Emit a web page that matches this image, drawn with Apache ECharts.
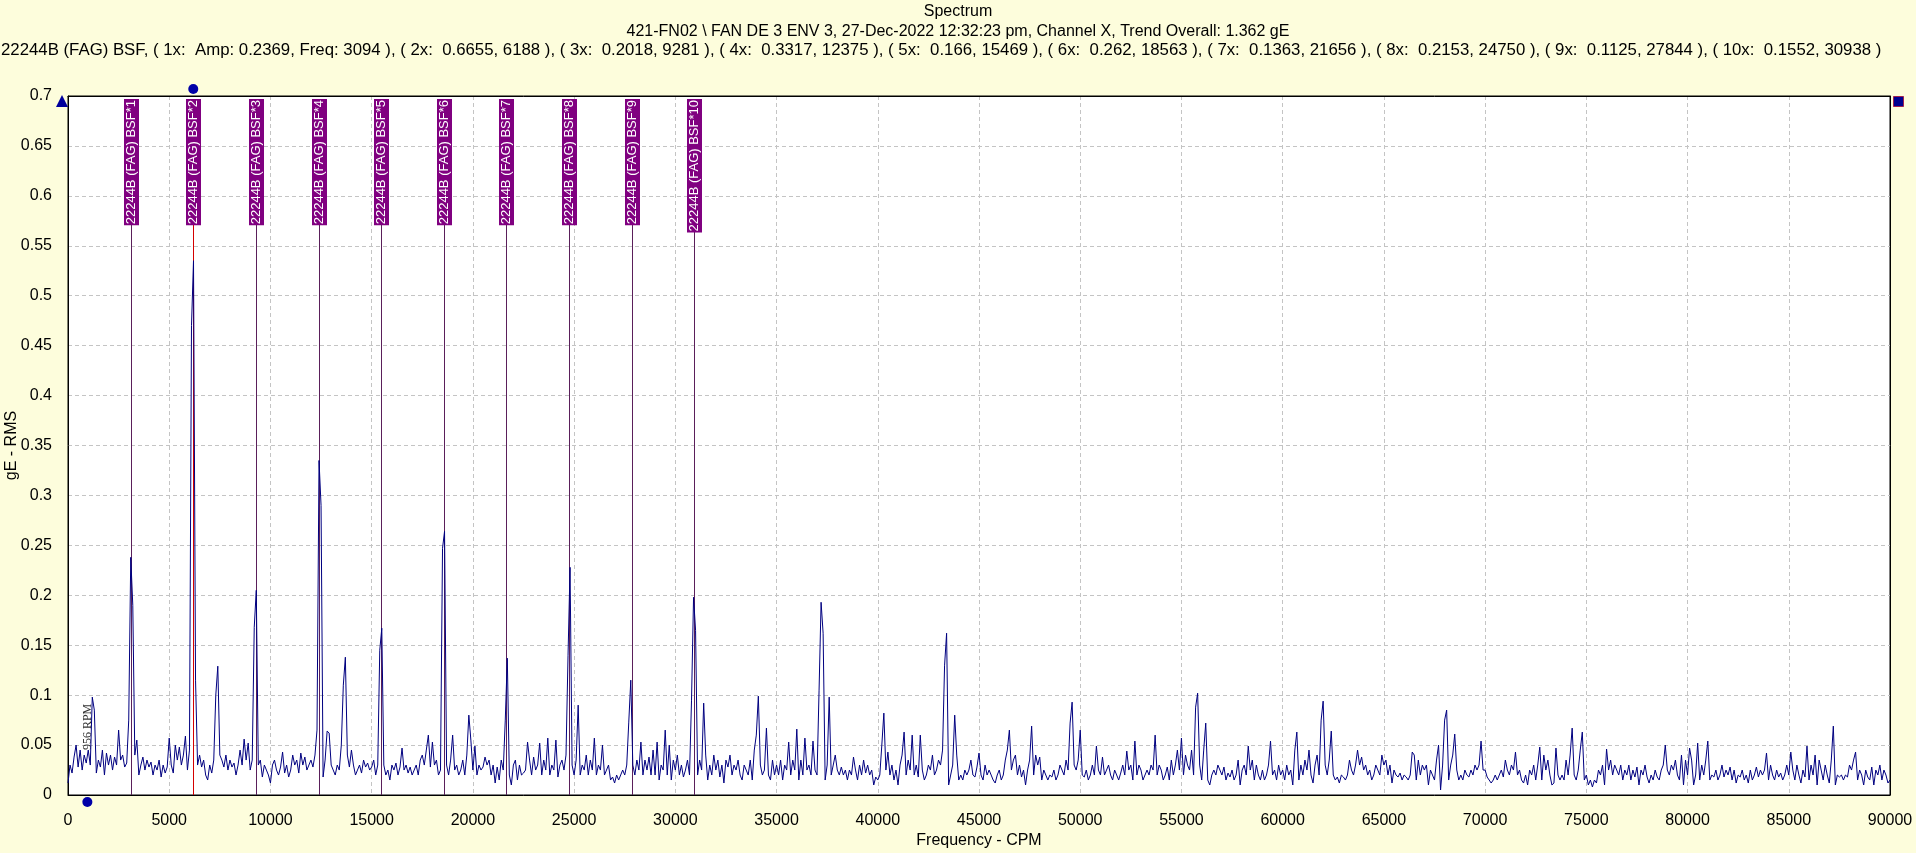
<!DOCTYPE html>
<html><head><meta charset="utf-8">
<script src="https://cdn.jsdelivr.net/npm/echarts@6/dist/echarts.min.js"></script>
<style>html,body{margin:0;padding:0;background:#fdfddc;}#c{width:1916px;height:853px;}</style>
</head><body><div id="c"></div>
<script>
// ---- data ----
const FREQ_STEP = 100; // CPM between spectrum lines
const ampRow0 = [0.012,0.03,0.022,0.038,0.05,0.028,0.045,0.025,0.04,0.032, 0.045,0.03,0.098,0.085,0.022,0.035,0.028,0.045,0.02,0.042, 0.03,0.04,0.025,0.038,0.03,0.065,0.035,0.04,0.028,0.032, 0.075,0.238,0.19,0.04,0.055,0.02,0.03,0.038,0.025,0.035, 0.028,0.033,0.02,0.03,0.025,0.035,0.018,0.03,0.022,0.028];
const ampRow1 = [0.057,0.03,0.022,0.05,0.035,0.048,0.03,0.04,0.059,0.025, 0.045,0.47,0.535,0.115,0.03,0.04,0.028,0.035,0.02,0.015, 0.03,0.022,0.035,0.1,0.129,0.04,0.035,0.028,0.04,0.025, 0.035,0.028,0.032,0.02,0.03,0.045,0.03,0.056,0.035,0.052, 0.025,0.035,0.168,0.205,0.03,0.035,0.018,0.03,0.025,0.02];
const ampRow2 = [0.012,0.03,0.035,0.025,0.02,0.028,0.043,0.022,0.03,0.018, 0.025,0.04,0.03,0.035,0.022,0.042,0.03,0.038,0.025,0.03, 0.035,0.028,0.04,0.065,0.335,0.29,0.018,0.035,0.064,0.062, 0.03,0.025,0.02,0.03,0.025,0.05,0.11,0.138,0.04,0.028, 0.045,0.03,0.02,0.025,0.03,0.022,0.035,0.028,0.032,0.025];
const ampRow3 = [0.028,0.035,0.02,0.03,0.145,0.167,0.03,0.02,0.025,0.015, 0.03,0.025,0.032,0.02,0.028,0.047,0.025,0.03,0.022,0.028, 0.02,0.025,0.03,0.02,0.035,0.04,0.03,0.045,0.06,0.028, 0.053,0.03,0.035,0.02,0.025,0.247,0.264,0.03,0.02,0.035, 0.06,0.025,0.03,0.02,0.025,0.035,0.02,0.04,0.08,0.055];
const ampRow4 = [0.025,0.049,0.02,0.03,0.025,0.028,0.038,0.03,0.035,0.02, 0.03,0.012,0.028,0.015,0.035,0.025,0.075,0.137,0.02,0.01, 0.03,0.035,0.015,0.03,0.02,0.022,0.025,0.053,0.035,0.02, 0.038,0.025,0.03,0.052,0.02,0.035,0.025,0.057,0.02,0.03, 0.025,0.055,0.018,0.03,0.035,0.025,0.04,0.14,0.228,0.03];
const ampRow5 = [0.02,0.035,0.09,0.02,0.03,0.025,0.04,0.02,0.035,0.025, 0.057,0.02,0.03,0.025,0.05,0.02,0.025,0.03,0.015,0.018, 0.012,0.02,0.015,0.02,0.025,0.02,0.03,0.073,0.115,0.03, 0.02,0.035,0.025,0.053,0.02,0.035,0.025,0.038,0.02,0.045, 0.02,0.053,0.015,0.03,0.025,0.065,0.02,0.05,0.015,0.035];
const ampRow6 = [0.025,0.04,0.02,0.03,0.018,0.025,0.035,0.02,0.095,0.198, 0.165,0.02,0.035,0.025,0.092,0.04,0.015,0.03,0.02,0.04, 0.025,0.035,0.018,0.03,0.012,0.035,0.028,0.04,0.02,0.03, 0.025,0.035,0.02,0.015,0.03,0.025,0.02,0.035,0.015,0.045, 0.06,0.099,0.03,0.02,0.025,0.067,0.02,0.015,0.035,0.02];
const ampRow7 = [0.03,0.02,0.035,0.015,0.03,0.025,0.053,0.02,0.035,0.025, 0.066,0.015,0.035,0.02,0.057,0.025,0.03,0.02,0.054,0.025, 0.02,0.105,0.193,0.162,0.015,0.03,0.098,0.02,0.03,0.04, 0.025,0.02,0.028,0.02,0.025,0.015,0.025,0.02,0.038,0.025, 0.015,0.03,0.02,0.035,0.022,0.03,0.02,0.025,0.01,0.018];
const ampRow8 = [0.015,0.02,0.05,0.082,0.025,0.043,0.02,0.03,0.015,0.025, 0.01,0.03,0.04,0.063,0.02,0.035,0.025,0.06,0.02,0.03, 0.018,0.06,0.025,0.015,0.02,0.03,0.025,0.04,0.02,0.025, 0.035,0.03,0.045,0.13,0.162,0.01,0.02,0.03,0.08,0.04, 0.015,0.02,0.015,0.025,0.02,0.025,0.035,0.02,0.018,0.028];
const ampRow9 = [0.042,0.02,0.015,0.03,0.02,0.025,0.02,0.015,0.012,0.02, 0.025,0.015,0.02,0.035,0.045,0.065,0.025,0.035,0.04,0.02, 0.03,0.018,0.025,0.01,0.025,0.035,0.069,0.02,0.04,0.03, 0.038,0.015,0.025,0.02,0.015,0.02,0.018,0.025,0.015,0.02, 0.03,0.025,0.02,0.035,0.025,0.072,0.093,0.03,0.025,0.035];
const ampRow10 = [0.065,0.02,0.018,0.025,0.015,0.02,0.03,0.02,0.049,0.025, 0.02,0.038,0.02,0.025,0.03,0.02,0.015,0.025,0.02,0.015, 0.022,0.03,0.02,0.044,0.025,0.03,0.015,0.054,0.02,0.03, 0.025,0.015,0.02,0.025,0.02,0.03,0.025,0.06,0.02,0.03, 0.025,0.015,0.02,0.028,0.015,0.035,0.02,0.03,0.045,0.025];
const ampRow11 = [0.057,0.02,0.04,0.03,0.025,0.045,0.02,0.088,0.102,0.03, 0.015,0.045,0.072,0.015,0.01,0.02,0.025,0.02,0.03,0.025, 0.02,0.028,0.015,0.022,0.018,0.025,0.015,0.02,0.035,0.01, 0.025,0.03,0.02,0.049,0.025,0.035,0.015,0.03,0.02,0.015, 0.025,0.015,0.02,0.03,0.054,0.02,0.025,0.015,0.03,0.02];
const ampRow12 = [0.025,0.015,0.03,0.02,0.025,0.01,0.045,0.063,0.015,0.03, 0.02,0.035,0.025,0.045,0.02,0.012,0.03,0.04,0.02,0.075, 0.094,0.03,0.02,0.035,0.064,0.02,0.015,0.018,0.012,0.02, 0.018,0.015,0.02,0.035,0.025,0.02,0.03,0.045,0.03,0.038, 0.025,0.03,0.02,0.025,0.015,0.02,0.03,0.025,0.02,0.04];
const ampRow13 = [0.03,0.035,0.02,0.03,0.012,0.025,0.02,0.018,0.022,0.015, 0.02,0.018,0.015,0.02,0.043,0.04,0.015,0.035,0.02,0.03, 0.025,0.03,0.01,0.025,0.02,0.015,0.035,0.05,0.005,0.03, 0.075,0.085,0.015,0.03,0.04,0.061,0.025,0.015,0.02,0.015, 0.025,0.02,0.018,0.025,0.02,0.03,0.025,0.03,0.054,0.025];
const ampRow14 = [0.025,0.018,0.015,0.012,0.015,0.02,0.015,0.02,0.025,0.018, 0.035,0.025,0.02,0.03,0.025,0.043,0.02,0.025,0.015,0.012, 0.02,0.01,0.025,0.02,0.03,0.015,0.03,0.048,0.015,0.04, 0.025,0.035,0.02,0.01,0.012,0.047,0.02,0.015,0.02,0.015, 0.035,0.02,0.04,0.067,0.02,0.015,0.025,0.045,0.063,0.015];
const ampRow15 = [0.02,0.01,0.015,0.008,0.015,0.012,0.025,0.02,0.03,0.01, 0.046,0.025,0.035,0.02,0.03,0.025,0.02,0.03,0.015,0.025, 0.02,0.03,0.015,0.025,0.018,0.028,0.01,0.025,0.02,0.03, 0.018,0.012,0.02,0.015,0.025,0.018,0.015,0.025,0.03,0.05, 0.025,0.02,0.03,0.025,0.035,0.02,0.015,0.04,0.01,0.035];
const ampRow16 = [0.02,0.047,0.035,0.01,0.02,0.052,0.015,0.03,0.02,0.035, 0.054,0.015,0.02,0.018,0.025,0.015,0.02,0.03,0.018,0.025, 0.02,0.028,0.015,0.025,0.012,0.02,0.018,0.025,0.015,0.02, 0.012,0.025,0.015,0.02,0.028,0.018,0.025,0.02,0.025,0.042, 0.015,0.03,0.02,0.015,0.025,0.018,0.022,0.015,0.02,0.03];
const ampRow17 = [0.02,0.043,0.025,0.015,0.03,0.02,0.012,0.025,0.018,0.049, 0.015,0.03,0.02,0.04,0.01,0.035,0.025,0.015,0.03,0.02, 0.012,0.035,0.069,0.01,0.02,0.018,0.02,0.015,0.02,0.018, 0.03,0.025,0.035,0.043,0.015,0.025,0.02,0.01,0.025,0.018, 0.015,0.028,0.01,0.025,0.02,0.03,0.015,0.025,0.02,0.012];
const ampTail = [0.015];

const harmonicOrders = [1,2,3,4,5,6,7,8,9,10];
const harmonicFreqs = [3094,6188,9281,12375,15469,18563,21656,24750,27844,30938];
const harmonicAmps = ['0.2369','0.6655','0.2018','0.3317','0.166','0.262','0.1363','0.2153','0.1125','0.1552'];
const bearingName = '22244B (FAG) BSF';
const cursorFreq = 6188;
const runSpeedRPM = 956;

const titleText = 'Spectrum';
const subtitleText = '421-FN02 \\ FAN DE 3 ENV 3, 27-Dec-2022 12:32:23 pm, Channel X, Trend Overall: 1.362 gE';
const xName = 'Frequency - CPM';
const yName = 'gE - RMS';

// ---- build ----
const amplitudes = [].concat(ampRow0,ampRow1,ampRow2,ampRow3,ampRow4,ampRow5,ampRow6,ampRow7,ampRow8,
  ampRow9,ampRow10,ampRow11,ampRow12,ampRow13,ampRow14,ampRow15,ampRow16,ampRow17,ampTail);
const spectrum = amplitudes.map((a,i)=>[i*FREQ_STEP, a]);
const markerLabels = harmonicOrders.map(k => bearingName + '*' + k);
const headerText = bearingName + ', ' + harmonicOrders.map((k,i) =>
  k === 1 ? '( 1x:  Amp: ' + harmonicAmps[i] + ', Freq: ' + harmonicFreqs[i] + ' )'
          : '( ' + k + 'x:  ' + harmonicAmps[i] + ', ' + harmonicFreqs[i] + ' )').join(', ');

const FONT = '"Liberation Sans", Arial, sans-serif';
const X_MIN = 0, X_MAX = 90000, Y_MIN = 0, Y_MAX = 0.7;
const chart = echarts.init(document.getElementById('c'), null, {renderer:'canvas'});
const frameAxis = {axisLine:{show:true, onZero:false, lineStyle:{color:'#000'}}, axisTick:{show:false},
  axisLabel:{show:false}, splitLine:{show:false}};
chart.setOption({
  animation:false,
  backgroundColor:'#fdfddc',
  textStyle:{fontFamily:FONT},
  title:[
    {text:titleText, left:'center', top:-1, textStyle:{fontSize:16, fontWeight:'normal', color:'#000', fontFamily:FONT}},
    {text:subtitleText, left:'center', top:19, textStyle:{fontSize:16, fontWeight:'normal', color:'#000', fontFamily:FONT}},
    {text:headerText, left:1, top:42, padding:0, textStyle:{fontSize:16.8, fontWeight:'normal', color:'#000', fontFamily:FONT}}
  ],
  grid:{left:68, right:26, top:96, bottom:58, containLabel:false, outerBoundsMode:'none',
    show:true, backgroundColor:'#fff', borderColor:'#000', borderWidth:1},
  xAxis:[
    {type:'value', min:X_MIN, max:X_MAX, interval:5000,
      name:xName, nameLocation:'middle', nameGap:38, nameMoveOverlap:false, nameTextStyle:{fontSize:16, color:'#000'},
      axisLine:{show:true, lineStyle:{color:'#000'}}, axisTick:{show:false},
      axisLabel:{fontSize:16, color:'#000', margin:18, formatter:v => String(v)},
      splitLine:{show:true, lineStyle:{color:'#c4c4c4', type:[4,3]}}},
    Object.assign({type:'value', min:X_MIN, max:X_MAX, position:'top'}, frameAxis)
  ],
  yAxis:[
    {type:'value', min:Y_MIN, max:Y_MAX, interval:0.05,
      name:yName, nameLocation:'middle', nameGap:48, nameMoveOverlap:false, nameTextStyle:{fontSize:16, color:'#000'},
      axisLine:{show:true, lineStyle:{color:'#000'}}, axisTick:{show:false},
      axisLabel:{fontSize:16, color:'#000', margin:16},
      splitLine:{show:true, lineStyle:{color:'#c4c4c4', type:[4,3]}}},
    Object.assign({type:'value', min:Y_MIN, max:Y_MAX, position:'right'}, frameAxis)
  ],
  series:[
    {type:'custom', coordinateSystem:'cartesian2d', clip:false, z:2,
      data: harmonicFreqs.map((f,i)=>[f,i]),
      renderItem:function(params, api){
        const f = api.value(0), i = api.value(1);
        const top = api.coord([f, Y_MAX]);
        const bot = api.coord([f, 0]);
        const x = Math.round(top[0]) + 0.5;
        return {type:'group', children:[
          {type:'line', shape:{x1:x, y1:top[1]+3, x2:x, y2:bot[1]},
            style:{stroke: f===cursorFreq ? '#d40000' : '#5a1f5a', lineWidth:1}},
          {type:'text', x:x, y:top[1]+3, rotation:Math.PI/2,
            style:{text:markerLabels[i], fill:'#fff', fontSize:13, lineHeight:13, fontFamily:FONT,
              align:'right', verticalAlign:'middle', backgroundColor:'#800080', padding:[1,1,1,1]}}
        ]};
      }},
    {type:'line', data:spectrum, showSymbol:false, symbol:'none', z:3,
      lineStyle:{color:'#000080', width:1}, sampling:null}
  ]
});

// decorations anchored with the chart's own scales
const pTL = chart.convertToPixel({gridIndex:0}, [X_MIN, Y_MAX]);
const pTR = chart.convertToPixel({gridIndex:0}, [X_MAX, Y_MAX]);
const pCur = chart.convertToPixel({gridIndex:0}, [cursorFreq, Y_MAX]);
const pRpm = chart.convertToPixel({gridIndex:0}, [runSpeedRPM, 0]);
const pRpmTxt = chart.convertToPixel({gridIndex:0}, [runSpeedRPM, 0.045]);
chart.setOption({graphic:[
  {type:'polygon', shape:{points:[[pTL[0]-6,pTL[1]-1],[pTL[0]-12,pTL[1]+11],[pTL[0],pTL[1]+11]]}, style:{fill:'#00009c'}},
  {type:'circle', shape:{cx:pCur[0], cy:pCur[1]-7, r:5}, style:{fill:'#0000a8'}},
  {type:'circle', shape:{cx:pRpm[0], cy:pRpm[1]+7, r:5}, style:{fill:'#0000a8'}},
  {type:'rect', shape:{x:pTR[0]+3.5, y:pTR[1]+0.5, width:10, height:10}, style:{fill:'#000090', stroke:'#a02050', lineWidth:1}},
  {type:'text', x:pRpmTxt[0], y:pRpmTxt[1], rotation:Math.PI/2,
    style:{text:runSpeedRPM + ' RPM', fill:'#333', fontSize:12, fontFamily:'"Liberation Serif", "Times New Roman", serif', align:'left', verticalAlign:'middle'}}
]});
</script></body></html>
